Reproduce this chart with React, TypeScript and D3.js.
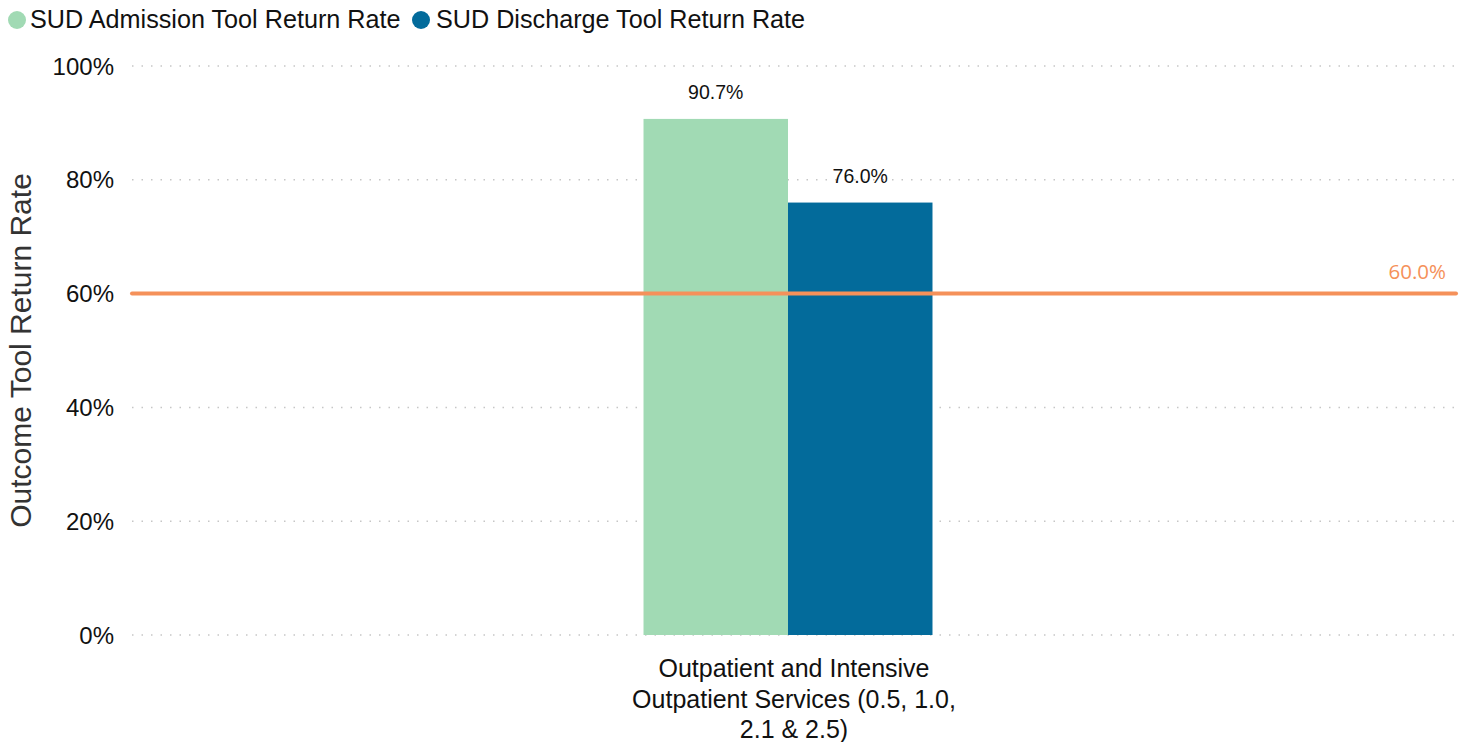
import React from 'react';
import { scaleBand, scaleLinear } from 'd3';

const width = 1466;
const height = 742;

const categories = ['Outpatient and Intensive Outpatient Services (0.5, 1.0, 2.1 & 2.5)'];
const categoryLines = [['Outpatient and Intensive', 'Outpatient Services (0.5, 1.0,', '2.1 & 2.5)']];
const seriesNames = ['SUD Admission Tool Return Rate', 'SUD Discharge Tool Return Rate'];
const seriesColors = ['#a1dab4', '#036b9b'];
const admissionValues = [90.7];
const dischargeValues = [76.0];
const targetValue = 60;
const yTicks = [0, 20, 40, 60, 80, 100];

const left = 132;
const right = 1456;
const top = 66;
const bottom = 635;
const font = '"Liberation Sans", Arial, sans-serif';

// bars sit slightly left of the plot centre, labels are centred on the plot
const x = scaleBand<string>().domain(categories).range([left, 1444]).padding(0.639);
const xLabel = scaleBand<string>().domain(categories).range([left, right]).padding(0.639);
const sub = scaleBand<number>().domain([0, 1]).range([0, x.bandwidth()]);
const y = scaleLinear().domain([0, 100]).range([bottom, top]);

const App = () => {
  const series = [admissionValues, dischargeValues];
  return (
    <svg width={width} height={height} style={{ position: 'absolute', left: 0, top: 0 }}>
      {/* legend */}
      <g fontFamily={font} fontSize={25.2}>
        <circle cx={17} cy={20} r={9} fill={seriesColors[0]} />
        <text x={30} y={28} fill="#111">{seriesNames[0]}</text>
        <circle cx={421} cy={20} r={9} fill={seriesColors[1]} />
        <text x={436} y={28} fill="#111">{seriesNames[1]}</text>
      </g>

      {/* grid + y ticks */}
      {yTicks.map((t) => (
        <g key={t}>
          <line x1={left} x2={right} y1={y(t)} y2={y(t)} stroke="#c6c6c6" strokeWidth={1.5} strokeDasharray="1.5,8" />
          <text x={114} y={y(t) + 8.5} textAnchor="end" fontFamily={font} fontSize={24} fill="#111">{t}%</text>
        </g>
      ))}

      <text transform={`translate(31,${(top + bottom) / 2}) rotate(-90)`} textAnchor="middle" fontFamily={font} fontSize={30} fill="#333">
        Outcome Tool Return Rate
      </text>

      {/* bars */}
      {categories.map((c, ci) => (
        <g key={c}>
          {series.map((vals, si) => {
            const bx = (x(c) ?? 0) + (sub(si) ?? 0);
            return (
              <g key={si}>
                <rect x={bx} y={y(vals[ci])} width={sub.bandwidth()} height={bottom - y(vals[ci])} fill={seriesColors[si]} />
                <text x={bx + sub.bandwidth() / 2} y={y(vals[ci]) - 19.5} textAnchor="middle" fontFamily={font} fontSize={19.5} fill="#111">
                  {vals[ci].toFixed(1)}%
                </text>
              </g>
            );
          })}
          {categoryLines[ci].map((line, li) => (
            <text key={li} x={(xLabel(c) ?? 0) + xLabel.bandwidth() / 2} y={677 + li * 30.5} textAnchor="middle" fontFamily={font} fontSize={25} fill="#111">
              {line}
            </text>
          ))}
        </g>
      ))}

      {/* target line */}
      <line x1={left} x2={right} y1={y(targetValue)} y2={y(targetValue)} stroke="#f5915a" strokeWidth={4} strokeLinecap="round" />
      <text x={1446} y={y(targetValue) - 15} textAnchor="end" fontFamily='"Open Sans", sans-serif' fontSize={20.5} fill="#f5915a">
        {targetValue.toFixed(1)}%
      </text>
    </svg>
  );
};

export default App;
